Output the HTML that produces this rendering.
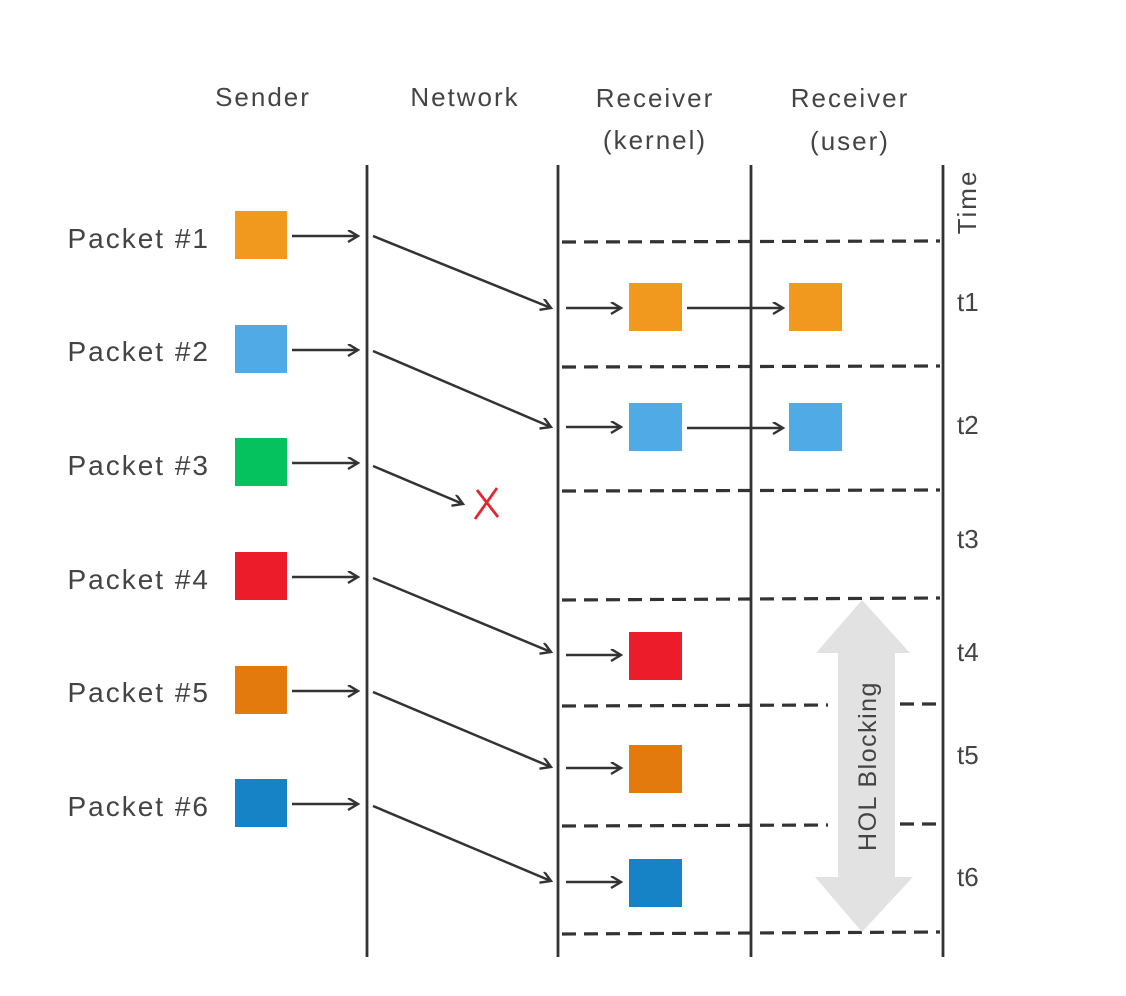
<!DOCTYPE html>
<html><head><meta charset="utf-8"><style>
html,body{margin:0;padding:0;background:#fff;}
svg{display:block;}
text{font-family:"Liberation Sans",sans-serif;fill:#444;}
</style></head><body>
<svg width="1126" height="996" viewBox="0 0 1126 996" xmlns="http://www.w3.org/2000/svg">
<defs>
<marker id="ah" markerWidth="14" markerHeight="14" refX="11" refY="6" orient="auto" markerUnits="userSpaceOnUse">
<path d="M1,0 L11,6 L1,12" fill="none" stroke="#333" stroke-width="2.4"/>
</marker>
</defs>
<g font-size="26" letter-spacing="2">
<text x="263" y="106" text-anchor="middle">Sender</text>
<text x="465" y="106" text-anchor="middle">Network</text>
<text x="655" y="107" text-anchor="middle">Receiver</text>
<text x="655" y="149" text-anchor="middle">(kernel)</text>
<text x="850" y="107" text-anchor="middle">Receiver</text>
<text x="850" y="150" text-anchor="middle">(user)</text>
<text transform="translate(976,202) rotate(-90)" text-anchor="middle">Time</text>
</g>
<g font-size="28" letter-spacing="2">
<text x="210" y="248" text-anchor="end">Packet #1</text>
<text x="210" y="361" text-anchor="end">Packet #2</text>
<text x="210" y="475" text-anchor="end">Packet #3</text>
<text x="210" y="589" text-anchor="end">Packet #4</text>
<text x="210" y="702" text-anchor="end">Packet #5</text>
<text x="210" y="816" text-anchor="end">Packet #6</text>
</g>
<g font-size="26">
<text x="957" y="311">t1</text>
<text x="957" y="434">t2</text>
<text x="957" y="548">t3</text>
<text x="957" y="661">t4</text>
<text x="957" y="764">t5</text>
<text x="957" y="886">t6</text>
</g>
<!-- dashed -->
<g stroke="#333" stroke-width="3.2" stroke-dasharray="14,8" fill="none">
<line x1="562" y1="242" x2="940" y2="241"/>
<line x1="562" y1="367" x2="940" y2="366"/>
<line x1="562" y1="491" x2="940" y2="490"/>
<line x1="562" y1="600" x2="940" y2="598"/>
<line x1="562" y1="706" x2="828" y2="705"/>
<line x1="900" y1="704" x2="940" y2="704"/>
<line x1="562" y1="826" x2="828" y2="825"/>
<line x1="900" y1="824" x2="940" y2="824"/>
<line x1="562" y1="934" x2="940" y2="932"/>
</g>
<!-- HOL arrow -->
<polygon points="862,600 910,653 895,653 895,877 913,877 862,932 815,877 838,877 838,653 816,653" fill="#e2e2e2"/>
<text transform="translate(876,766) rotate(-90)" text-anchor="middle" font-size="25" letter-spacing="1.5">HOL Blocking</text>
<!-- verticals -->
<g stroke="#333" stroke-width="2.8">
<line x1="367" y1="165" x2="367" y2="957"/>
<line x1="558" y1="165" x2="558" y2="957"/>
<line x1="751" y1="165" x2="751" y2="957"/>
<line x1="943" y1="165" x2="943" y2="957"/>
</g>
<!-- sender boxes -->
<rect x="235" y="211" width="52" height="48" fill="#f0991e"/>
<rect x="235" y="325" width="52" height="48" fill="#4faae6"/>
<rect x="235" y="438" width="52" height="48" fill="#05c25f"/>
<rect x="235" y="552" width="52" height="48" fill="#ec1c2b"/>
<rect x="235" y="666" width="52" height="48" fill="#e27a0e"/>
<rect x="235" y="779" width="52" height="48" fill="#1583c6"/>
<!-- kernel boxes -->
<rect x="629" y="283" width="53" height="48" fill="#f0991e"/>
<rect x="629" y="403" width="53" height="48" fill="#4faae6"/>
<rect x="629" y="632" width="53" height="48" fill="#ec1c2b"/>
<rect x="629" y="745" width="53" height="48" fill="#e27a0e"/>
<rect x="629" y="859" width="53" height="48" fill="#1583c6"/>
<!-- user boxes -->
<rect x="789" y="283" width="53" height="48" fill="#f0991e"/>
<rect x="789" y="403" width="53" height="48" fill="#4faae6"/>
<!-- arrows -->
<g stroke="#333" stroke-width="2.5" fill="none" marker-end="url(#ah)">
<line x1="292" y1="236" x2="358" y2="236"/>
<line x1="292" y1="350" x2="358" y2="350"/>
<line x1="292" y1="463" x2="358" y2="463"/>
<line x1="292" y1="577" x2="358" y2="577"/>
<line x1="292" y1="691" x2="358" y2="691"/>
<line x1="292" y1="804" x2="358" y2="804"/>
<line x1="373" y1="236" x2="551" y2="308"/>
<line x1="373" y1="351" x2="551" y2="427"/>
<line x1="373" y1="466" x2="463" y2="504"/>
<line x1="373" y1="578" x2="551" y2="652"/>
<line x1="373" y1="692" x2="551" y2="767"/>
<line x1="373" y1="806" x2="551" y2="881"/>
<line x1="566" y1="308" x2="621" y2="308"/>
<line x1="566" y1="427" x2="621" y2="427"/>
<line x1="566" y1="655" x2="621" y2="655"/>
<line x1="566" y1="768" x2="621" y2="768"/>
<line x1="566" y1="882" x2="621" y2="882"/>
<line x1="687" y1="308" x2="783" y2="308"/>
<line x1="687" y1="428" x2="783" y2="428"/>
</g>
<g stroke="#e3262e" stroke-width="2.8" fill="none">
<line x1="497" y1="488" x2="475" y2="519"/>
<line x1="477" y1="490" x2="498" y2="517"/>
</g>
</svg>
</body></html>
